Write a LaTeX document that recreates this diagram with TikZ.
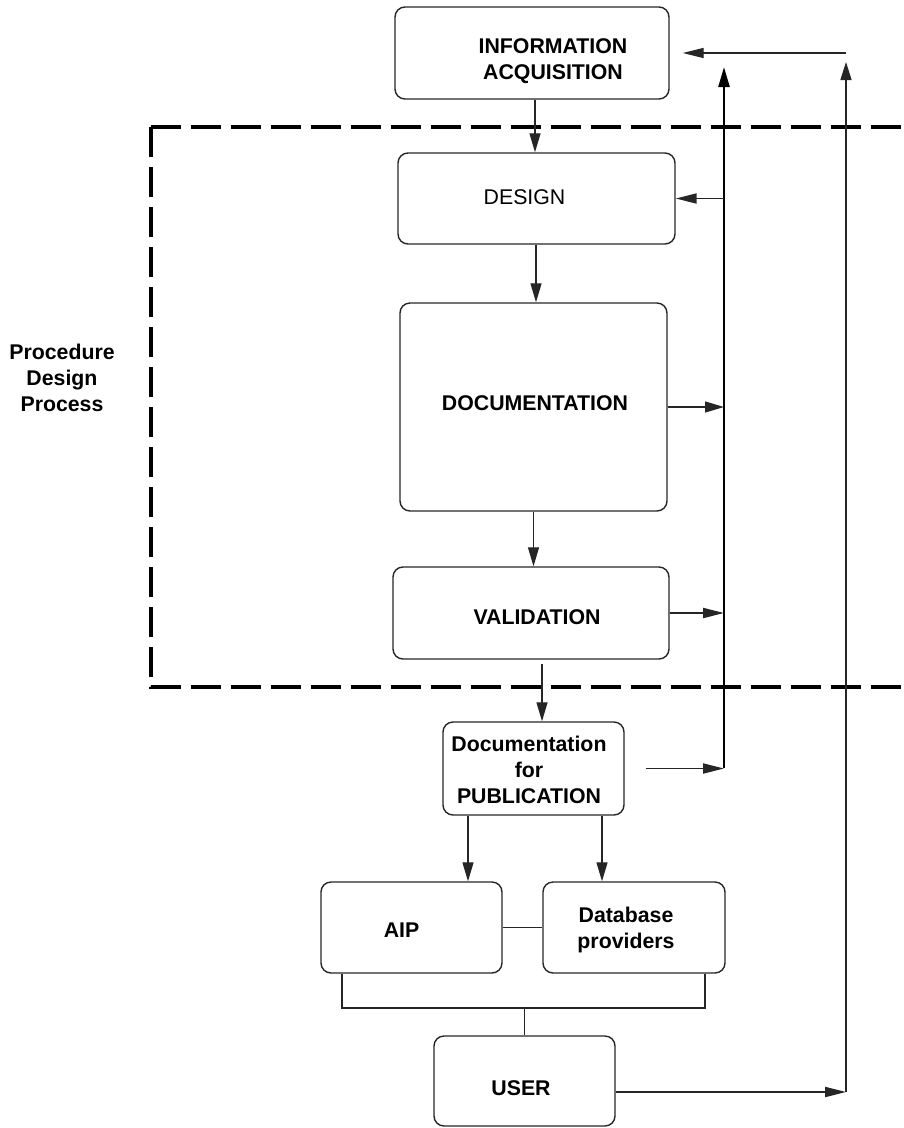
\documentclass[tikz,border=0pt]{standalone}
\usepackage{fontspec}
\setmainfont{Liberation Sans}
\usetikzlibrary{arrows.meta,calc}
\begin{document}
\begin{tikzpicture}[x=1pt,y=-1pt,
  box/.style={draw=black!85, line width=1.4pt, rounded corners=10pt, inner sep=0pt},
  lbl/.style={font=\fontsize{21.3}{26}\selectfont\bfseries, align=center, inner sep=0pt},
  lblr/.style={font=\fontsize{21.3}{26}\selectfont, align=center, inner sep=0pt},
  conn/.style={draw=black!85, line width=1.3pt},
  tip/.style={-{Triangle[length=19pt,width=11pt]}},
  arr/.style={conn, tip},
  harr/.style={conn, line width=1.9pt, -{Triangle[length=21pt,width=10pt]}},
  bus/.style={draw=black, line width=2.5pt, -{Triangle[length=20pt,width=11pt]}},
  fb/.style={draw=black!85, line width=1.5pt},
  dashbox/.style={draw=black, line width=4pt, dash pattern=on 30pt off 10pt}
]
\useasboundingbox (0,0) rectangle (904,1128);

% dashed frame
\draw[dashbox] (151,127) -- (910,127) (151,127) -- (151,687) -- (910,687);

% boxes
\node[box, minimum width=274pt, minimum height=92pt] (info) at (532,53) {};
\node[box, minimum width=277pt, minimum height=91pt] (design) at (536.5,198.5) {};
\node[box, minimum width=267pt, minimum height=208pt] (doc) at (533.5,407) {};
\node[box, minimum width=276pt, minimum height=92pt] (valid) at (531,613) {};
\node[box, minimum width=181pt, minimum height=93pt] (pub) at (533.5,768.5) {};
\node[box, minimum width=181pt, minimum height=91pt] (aip) at (411.5,927.5) {};
\node[box, minimum width=182pt, minimum height=91pt] (db) at (634,927.5) {};
\node[box, minimum width=181pt, minimum height=90pt] (user) at (524.5,1081) {};

% texts
\node[lbl] (tinfo) at ($(info)+(21,8)$) {INFORMATION\\ACQUISITION};
\node[lblr] (tdesign) at ($(design)+(-12,-1)$) {DESIGN};
\node[lbl] (tdoc) at ($(doc)+(1.5,-4)$) {DOCUMENTATION};
\node[lbl] (tvalid) at ($(valid)+(6,4)$) {VALIDATION};
\node[lbl] (tpub) at ($(pub)+(-4.5,1)$) {Documentation\\for\\PUBLICATION};
\node[lbl] (taip) at ($(aip)+(-10,2.5)$) {AIP};
\node[lbl] (tdb) at ($(db)+(-8,2)$) {Database\\providers};
\node[lbl] (tuser) at ($(user)+(-3.5,7)$) {USER};
\node[lbl] (proc) at (62,378) {Procedure\\Design\\Process};

% coordinates for the bus and the feedback loop
\coordinate (busB) at (724,768);
\coordinate (busT) at (724,67);
\coordinate (fbB) at (846,1092);
\coordinate (fbT) at (846,62);
\coordinate (fbH) at (846,53);
\coordinate (br) at (525,1008);

% main flow
\draw[arr] ([xshift=3pt]info.south) -- ([xshift=3pt]info.south |- design.north);
\draw[arr] ([xshift=-0.5pt]design.south) -- ([xshift=-0.5pt]design.south |- doc.north);
\draw[arr] (doc.south) -- (doc.south |- valid.north);
\draw[arr] ([xshift=11pt,yshift=-4pt]valid.south) -- ([xshift=11pt]valid.south |- pub.north);
\draw[arr] ([xshift=-65.5pt]pub.south) -- ([xshift=-65.5pt]pub.south |- aip.north);
\draw[arr] ([xshift=68.5pt]pub.south) -- ([xshift=68.5pt]pub.south |- db.north);
\draw[conn] (aip.east) -- (db.west);
\draw[conn] ([xshift=-69.5pt]aip.south) -- ([xshift=-69.5pt]aip.south |- br) -| ([xshift=71pt]db.south);
\draw[conn] (user.north) -- (user.north |- br);

% bus
\draw[bus] (busB) -- (busT);
\draw[harr] (design.east -| busB) -- (design.east);
\draw[arr] (doc.east) -- (doc.east -| busB);
\draw[harr] (valid.east) -- (valid.east -| busB);
\draw[harr] ([xshift=21pt]pub.east) -- (pub.east -| busB);

% feedback from user
\draw[harr] (user.east |- fbB) -- (fbB);
\draw[fb, -{Triangle[length=18pt,width=11pt]}] (fbB) -- (fbT);
\draw[harr, line width=1.3pt] (fbH) -- ([xshift=13pt]info.east);
\end{tikzpicture}
\end{document}
